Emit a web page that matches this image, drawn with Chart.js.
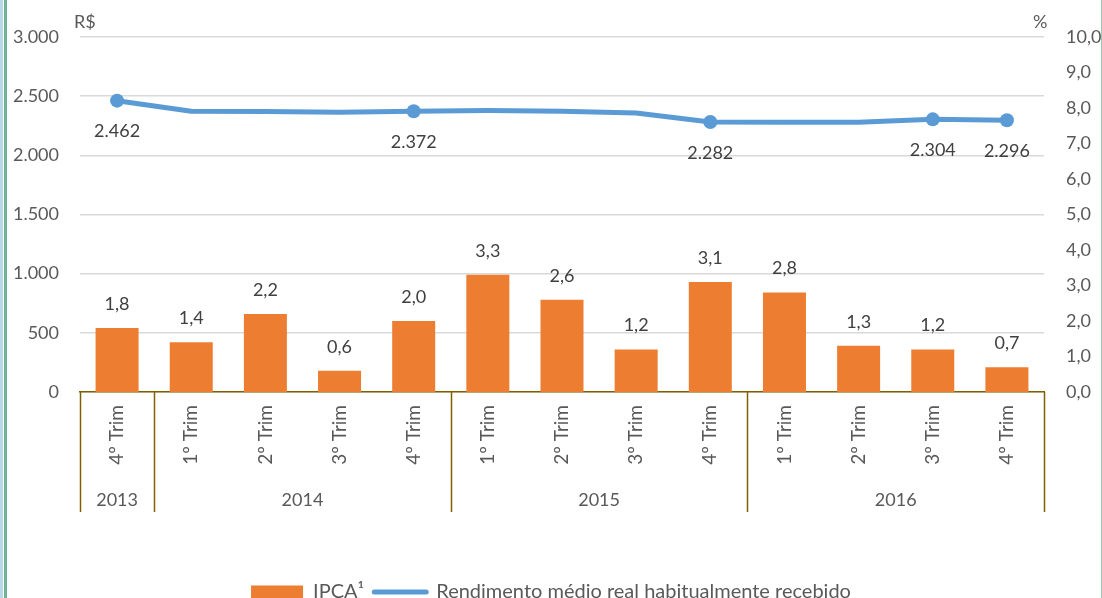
<!DOCTYPE html>
<html>
<head>
<meta charset="utf-8">
<script src="https://cdn.jsdelivr.net/npm/chart.js@4"></script>
<style>
  html, body { margin: 0; padding: 0; background: #fff; overflow: hidden; }
  #wrap { position: relative; width: 1102px; height: 598px; overflow: hidden; }
  #c { position: absolute; left: 0; top: 0; }
  .b1 { position: absolute; left: 0; top: 0; width: 3px; height: 598px; background: #BBD7EA; }
  .b2 { position: absolute; left: 4px; top: 0; width: 3px; height: 598px; background: #6FB393; }
  .b3 { position: absolute; left: 1101px; top: 0; width: 1px; height: 598px; background: #9CC7B5; }
</style>
</head>
<body>
<div id="wrap">
  <canvas id="c" width="1102" height="612"></canvas>
  <div class="b1"></div><div class="b2"></div><div class="b3"></div>
</div>
<script>
const categories = ['4º Trim','1º Trim','2º Trim','3º Trim','4º Trim','1º Trim','2º Trim','3º Trim','4º Trim','1º Trim','2º Trim','3º Trim','4º Trim'];
const years = ['2013','2014','2015','2016'];
const yearSpans = [1, 4, 4, 4];
const ipca = [1.8, 1.4, 2.2, 0.6, 2.0, 3.3, 2.6, 1.2, 3.1, 2.8, 1.3, 1.2, 0.7];
const rendimento = [2462, 2372, 2370, 2364, 2372, 2378, 2372, 2358, 2282, 2279, 2280, 2304, 2296];
const labeledPoints = [0, 4, 8, 11, 12];
const leftTicks = [0, 500, 1000, 1500, 2000, 2500, 3000];
const rightTicks = [0, 1, 2, 3, 4, 5, 6, 7, 8, 9, 10];
const seriesNames = ['IPCA¹', 'Rendimento médio real habitualmente recebido'];

const FONT = 'Lato';
const fmtThousands = v => String(Math.round(v)).replace(/\B(?=(\d{3})+(?!\d))/g, '.');
const fmtDec = v => v.toFixed(1).replace('.', ',');

const extras = {
  id: 'extras',
  afterDatasetsDraw(chart) {
    const ctx = chart.ctx;
    ctx.save();
    ctx.font = '18px ' + FONT;
    ctx.fillStyle = '#404040';
    ctx.textAlign = 'center';
    ctx.textBaseline = 'middle';
    const bars = chart.getDatasetMeta(0).data;
    bars.forEach((b, i) => ctx.fillText(fmtDec(ipca[i]), b.x, b.y - 24));
    const pts = chart.getDatasetMeta(1).data;
    labeledPoints.forEach(i => ctx.fillText(fmtThousands(rendimento[i]), pts[i].x, pts[i].y + 31));
    ctx.restore();
  },
  afterDraw(chart) {
    const ctx = chart.ctx;
    const xs = chart.scales.x;
    const area = chart.chartArea;
    ctx.save();
    ctx.strokeStyle = '#7F6000';
    ctx.lineWidth = 1.5;
    let start = 0;
    const bounds = [xs.getPixelForValue(-0.5)];
    yearSpans.forEach(s => { start += s; bounds.push(xs.getPixelForValue(start - 0.5)); });
    bounds.forEach(x => {
      ctx.beginPath();
      ctx.moveTo(Math.round(x) + 0.5, area.bottom);
      ctx.lineTo(Math.round(x) + 0.5, area.bottom + 120);
      ctx.stroke();
    });
    ctx.font = '18px ' + FONT;
    ctx.fillStyle = '#595959';
    ctx.textAlign = 'center';
    ctx.textBaseline = 'middle';
    years.forEach((y, i) => {
      ctx.fillText(y, (bounds[i] + bounds[i + 1]) / 2, area.bottom + 108);
    });
    ctx.textAlign = 'left';
    ctx.fillText('R$', 74, 22);
    ctx.fillText('%', 1033, 22);
    ctx.restore();
  }
};

new Chart(document.getElementById('c'), {
  data: {
    labels: categories,
    datasets: [
      {
        type: 'bar',
        label: seriesNames[0],
        data: ipca,
        yAxisID: 'y1',
        backgroundColor: '#ED7D31',
        barPercentage: 0.58,
        categoryPercentage: 1.0
      },
      {
        type: 'line',
        label: seriesNames[1],
        data: rendimento,
        yAxisID: 'y',
        borderColor: '#5B9BD5',
        backgroundColor: '#5B9BD5',
        borderWidth: 5,
        borderCapStyle: 'round',
        borderJoinStyle: 'round',
        tension: 0,
        pointRadius: rendimento.map((v, i) => labeledPoints.includes(i) ? 7 : 0),
        pointBorderWidth: 0,
        pointHoverRadius: 0
      }
    ]
  },
  options: {
    responsive: false,
    animation: false,
    events: [],
    layout: { padding: { top: 37, left: 0, right: 0, bottom: 0 } },
    font: { family: FONT },
    plugins: {
      tooltip: { enabled: false },
      legend: {
        position: 'bottom',
        labels: {
          font: { family: FONT, size: 20 },
          color: '#595959',
          usePointStyle: true,
          pointStyleWidth: 52,
          boxHeight: 13,
          padding: 10,
          generateLabels(chart) {
            const items = Chart.defaults.plugins.legend.labels.generateLabels(chart);
            items.forEach((it, i) => {
              if (i === 0) { it.pointStyle = 'rect'; it.lineWidth = 0; it.strokeStyle = '#ED7D31'; }
              else { it.pointStyle = 'line'; it.lineWidth = 5; it.lineCap = 'round'; it.strokeStyle = '#5B9BD5'; }
            });
            return items;
          }
        }
      }
    },
    scales: {
      x: {
        type: 'category',
        grid: { display: false, drawTicks: false },
        border: { display: true, color: '#7F6000', width: 1.5 },
        ticks: { font: { family: FONT, size: 19 }, color: '#595959', minRotation: 90, maxRotation: 90, autoSkip: false, padding: 13 },
        afterFit(scale) { scale.height = 180; }
      },
      y: {
        position: 'left',
        min: 0, max: 3000,
        afterBuildTicks(scale) { scale.ticks = leftTicks.map(v => ({ value: v })); },
        grid: { color: '#D9D9D9', lineWidth: 1.5, drawTicks: false },
        border: { display: false },
        ticks: { font: { family: FONT, size: 18 }, color: '#595959', padding: 21, callback: v => fmtThousands(v) },
        afterFit(scale) { scale.width = 80; }
      },
      y1: {
        position: 'right',
        min: 0, max: 10,
        afterBuildTicks(scale) { scale.ticks = rightTicks.map(v => ({ value: v })); },
        grid: { display: false, drawTicks: false },
        border: { display: false },
        ticks: { font: { family: FONT, size: 18 }, color: '#595959', padding: 22, callback: v => fmtDec(v) },
        afterFit(scale) { scale.width = 58; }
      }
    }
  },
  plugins: [extras]
});
</script>
</body>
</html>
